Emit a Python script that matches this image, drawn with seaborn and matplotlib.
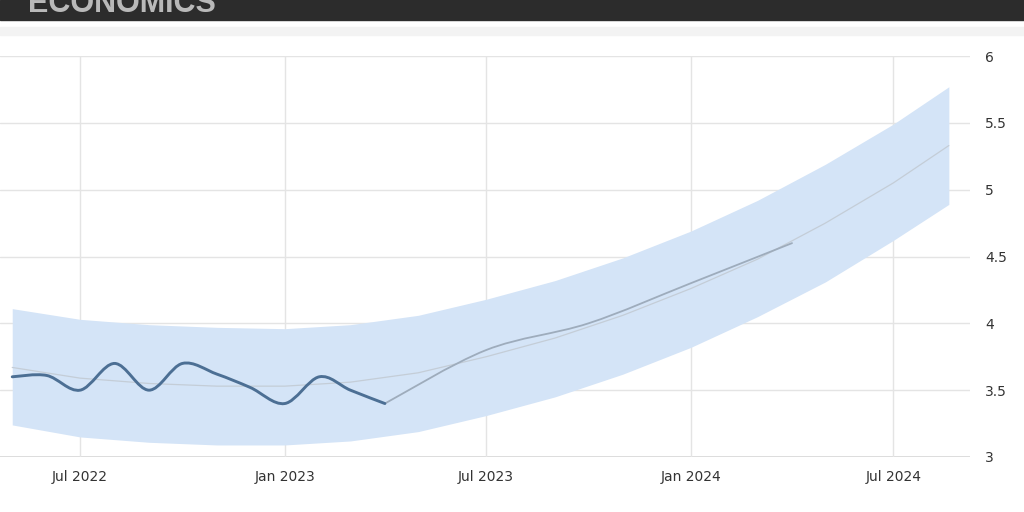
import numpy as np
import pandas as pd
import matplotlib
matplotlib.use("Agg")
import matplotlib.pyplot as plt
import matplotlib.dates as mdates
import matplotlib.patches as mpatches
from matplotlib.path import Path
import seaborn as sns

sns.set_theme(style="white")
plt.rcParams["font.family"] = ["DejaVu Sans"]

ACTUAL = "#4c6f94"
FORECAST = "#9eacbc"
TREND = "#c4cdd7"
BAND = "#d4e4f7"
GRID = "#e4e4e4"

# ------------------------------------------------------------------
# data
# ------------------------------------------------------------------
actual_dates = ["2022-05-01", "2022-06-01", "2022-07-01", "2022-08-01", "2022-09-01", "2022-10-01",
                "2022-11-01", "2022-12-01", "2023-01-01", "2023-02-01", "2023-03-01", "2023-04-01"]
actual_vals = [3.6, 3.61, 3.5, 3.7, 3.5, 3.7, 3.62, 3.52, 3.4, 3.6, 3.5, 3.4]

forecast_dates = ["2023-04-01", "2023-07-01", "2023-10-01", "2024-01-01", "2024-04-01"]
forecast_vals = [3.4, 3.8, 4.0, 4.3, 4.6]

trend_dates = ["2022-05-01", "2022-07-01", "2022-09-01", "2022-11-01", "2023-01-01", "2023-03-01",
               "2023-05-01", "2023-07-01", "2023-09-01", "2023-11-01", "2024-01-01", "2024-03-01",
               "2024-05-01", "2024-07-01", "2024-08-20"]
trend_vals = [3.67, 3.59, 3.55, 3.53, 3.53, 3.56, 3.63, 3.75, 3.89, 4.06, 4.26, 4.48, 4.75, 5.05, 5.33]
band_upper = [4.11, 4.03, 3.99, 3.97, 3.96, 3.99, 4.06, 4.18, 4.32, 4.49, 4.69, 4.92, 5.19, 5.49, 5.77]
band_lower = [3.24, 3.15, 3.11, 3.09, 3.09, 3.12, 3.19, 3.31, 3.45, 3.62, 3.82, 4.05, 4.31, 4.62, 4.89]

xtick_dates = ["2022-07-01", "2023-01-01", "2023-07-01", "2024-01-01", "2024-07-01"]
xtick_labels = ["Jul 2022", "Jan 2023", "Jul 2023", "Jan 2024", "Jul 2024"]
ytick_vals = [3, 3.5, 4, 4.5, 5, 5.5, 6]

trend = pd.DataFrame({"date": pd.to_datetime(trend_dates), "value": trend_vals,
                      "upper": band_upper, "lower": band_lower})


def spline_path(dates, vals):
    # smooth (catmull-rom style) bezier through the points, like a highcharts spline
    x = mdates.date2num(pd.to_datetime(dates).to_pydatetime())
    y = np.asarray(vals, dtype=float)
    pts = np.column_stack([x, y])
    ext = np.vstack([pts[0], pts, pts[-1]])
    verts = [tuple(pts[0])]
    codes = [Path.MOVETO]
    for i in range(len(pts) - 1):
        p0, p1, p2, p3 = ext[i], ext[i + 1], ext[i + 2], ext[i + 3]
        c1 = p1 + (p2 - p0) / 6.0
        c2 = p2 - (p3 - p1) / 6.0
        verts += [tuple(c1), tuple(c2), tuple(p2)]
        codes += [Path.CURVE4] * 3
    return Path(verts, codes)


fig = plt.figure(figsize=(10.24, 5.12), dpi=100)
ax = fig.add_axes([0.0, 1 - 457 / 512, 970 / 1024, 401 / 512])

# confidence band + trend line
ax.fill_between(trend["date"], trend["lower"], trend["upper"], color=BAND, lw=0, zorder=1)
sns.lineplot(data=trend, x="date", y="value", color=TREND, linewidth=0.9, ax=ax, zorder=2)

# forecast and actual as smooth splines
ax.add_patch(mpatches.PathPatch(spline_path(forecast_dates, forecast_vals), fc="none",
                                ec=FORECAST, lw=1.3, zorder=3, capstyle="round"))
ax.add_patch(mpatches.PathPatch(spline_path(actual_dates, actual_vals), fc="none",
                                ec=ACTUAL, lw=2.1, zorder=4, capstyle="round", joinstyle="round"))

ax.set_xlim(pd.Timestamp("2022-04-20"), pd.Timestamp("2024-09-08"))
ax.set_ylim(3, 6)
ax.set_xlabel("")
ax.set_ylabel("")

ax.set_xticks(pd.to_datetime(xtick_dates))
ax.set_xticklabels(xtick_labels)
ax.set_yticks(ytick_vals)
ax.set_yticklabels([f"{v:g}" for v in ytick_vals])
ax.yaxis.tick_right()
ax.tick_params(axis="both", length=0, labelsize=10, colors="#333333")
ax.tick_params(axis="x", pad=9)
ax.tick_params(axis="y", pad=11)
ax.grid(True, color=GRID, linewidth=1.0, zorder=0)
ax.set_axisbelow(True)
for s in ax.spines.values():
    s.set_visible(False)
ax.axhline(3, color="#d6d6d6", lw=1.2, zorder=0)

# header bar with clipped logo text
fig.patches.append(mpatches.Rectangle((0, 1 - 20 / 512), 1, 20 / 512, transform=fig.transFigure,
                                      color="#2c2c2c", zorder=0))
fig.patches.append(mpatches.Rectangle((0, 1 - 35 / 512), 1, 8 / 512, transform=fig.transFigure,
                                      color="#f3f3f3", zorder=0))
fig.text(28 / 1024, 1 - 12 / 512, "ECONOMICS", fontsize=22, fontweight="bold",
         family=["Liberation Sans", "DejaVu Sans"], color="#b9b9b9", va="baseline", ha="left")

fig.savefig("out.png", dpi=100)
